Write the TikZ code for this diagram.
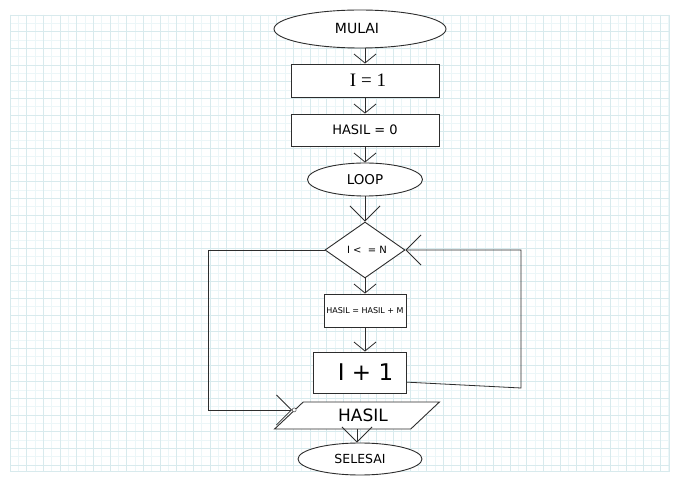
\documentclass[tikz,border=0pt]{standalone}
\usepackage{fontspec}
\setmainfont{DejaVu Sans}
\newfontfamily\serifone{Liberation Serif}
\usetikzlibrary{shapes.geometric,arrows.meta,calc}
\definecolor{gridminor}{RGB}{236,246,248}
\definecolor{gridmajor}{RGB}{216,234,237}
\definecolor{edge}{RGB}{45,45,45}

\begin{document}
\begin{tikzpicture}[x=1pt,y=-1pt]
      \tikzstyle{term}=[ellipse,draw=edge,fill=white,line width=0.9pt,inner sep=0pt]
      \tikzstyle{proc}=[rectangle,draw=edge,fill=white,line width=0.9pt,inner sep=0pt]
      \tikzstyle{decide}=[diamond,draw=edge,fill=white,line width=0.9pt,inner sep=0pt,minimum width=80pt,minimum height=56pt]
      \tikzstyle{data}=[trapezium,trapezium left angle=38,trapezium right angle=142,trapezium stretches=true,draw=edge,fill=white,line width=0.9pt,inner sep=0pt,minimum width=166pt,minimum height=27pt]
      \tikzstyle{flow}=[draw=edge,line width=0.8pt,-{Straight Barb[length=9pt,width=22pt]}]
      \tikzstyle{bigflow}=[draw=edge,line width=0.8pt,-{Straight Barb[length=15pt,width=30pt]}]
      \useasboundingbox (0,0) rectangle (681,486);
      \fill[white] (0,0) rectangle (681,486);
      % grid paper
      \foreach \i in {0,...,79} {\draw[gridminor,line width=0.7pt] (10+\i*8.333,15) -- (10+\i*8.333,471);}
      \foreach \j in {0,...,54} {\draw[gridminor,line width=0.7pt] (10,15+\j*8.333) -- (669,15+\j*8.333);}
      \foreach \i in {0,2,...,78} {\draw[gridmajor,line width=0.7pt] (10+\i*8.333,15) -- (10+\i*8.333,471);}
      \foreach \j in {0,2,...,54} {\draw[gridmajor,line width=0.7pt] (10,15+\j*8.333) -- (669,15+\j*8.333);}
      \draw[gridmajor,line width=0.7pt] (10,15) rectangle (669,471);
      % flowchart
      \node[term,minimum width=172pt,minimum height=38pt] at (360,29) (start) {\fontsize{14}{16}\selectfont MULAI\hspace*{6pt}};
      \node[proc,minimum width=148pt,minimum height=33pt] at (365,80.5) (init) {\serifone\fontsize{19}{21}\selectfont\hspace*{6pt}I = 1};
      \node[proc,minimum width=148pt,minimum height=32pt] at (365,130) (zero) {\fontsize{13}{15}\selectfont HASIL = 0};
      \node[term,minimum width=115pt,minimum height=33pt] at (365,179.5) (loop) {\fontsize{13.5}{15}\selectfont LOOP};
      \node[decide] at (365,250) (test) {\fontsize{10}{12}\selectfont\hspace*{4pt}I <\ \ = N};
      \node[proc,minimum width=82pt,minimum height=33pt] at (365,310.5) (add) {\fontsize{8}{9}\selectfont HASIL = HASIL + M};
      \node[proc,minimum width=93pt,minimum height=41pt] at (359.5,372.5) (inc) {\fontsize{23}{26}\selectfont\hspace*{12pt}I + 1};
      \node[data] at (357,415.5) (out) {\fontsize{17}{19}\selectfont\hspace*{12pt}HASIL};
      \node[term,minimum width=124pt,minimum height=32pt] at (360,459) (stop) {\fontsize{12.5}{14}\selectfont SELESAI};
      \node[circle,draw=edge,fill=white,inner sep=0pt,minimum size=4pt] at ($(out.top left corner)!0.3!(out.bottom left corner)$) (jn) {};
      \coordinate (lft) at (208,410);
      \coordinate (rgt) at (521,388);
      \draw[flow] (start.south -| init) -- (init);
      \draw[flow] (init) -- (zero);
      \draw[flow] (zero) -- (loop);
      \draw[bigflow] (loop) -- (test);
      \draw[flow] (test) -- (add);
      \draw[flow] (add) -- (add |- inc.north);
      \draw[bigflow] (test.west) -- (test.west -| lft) |- (jn);
      \draw[bigflow] ($(inc.north east)!0.73!(inc.south east)$) -- (rgt) |- (test.east);
      \draw[bigflow] (out.south) -- (out.south |- stop.north);
    \end{tikzpicture}
\end{document}
